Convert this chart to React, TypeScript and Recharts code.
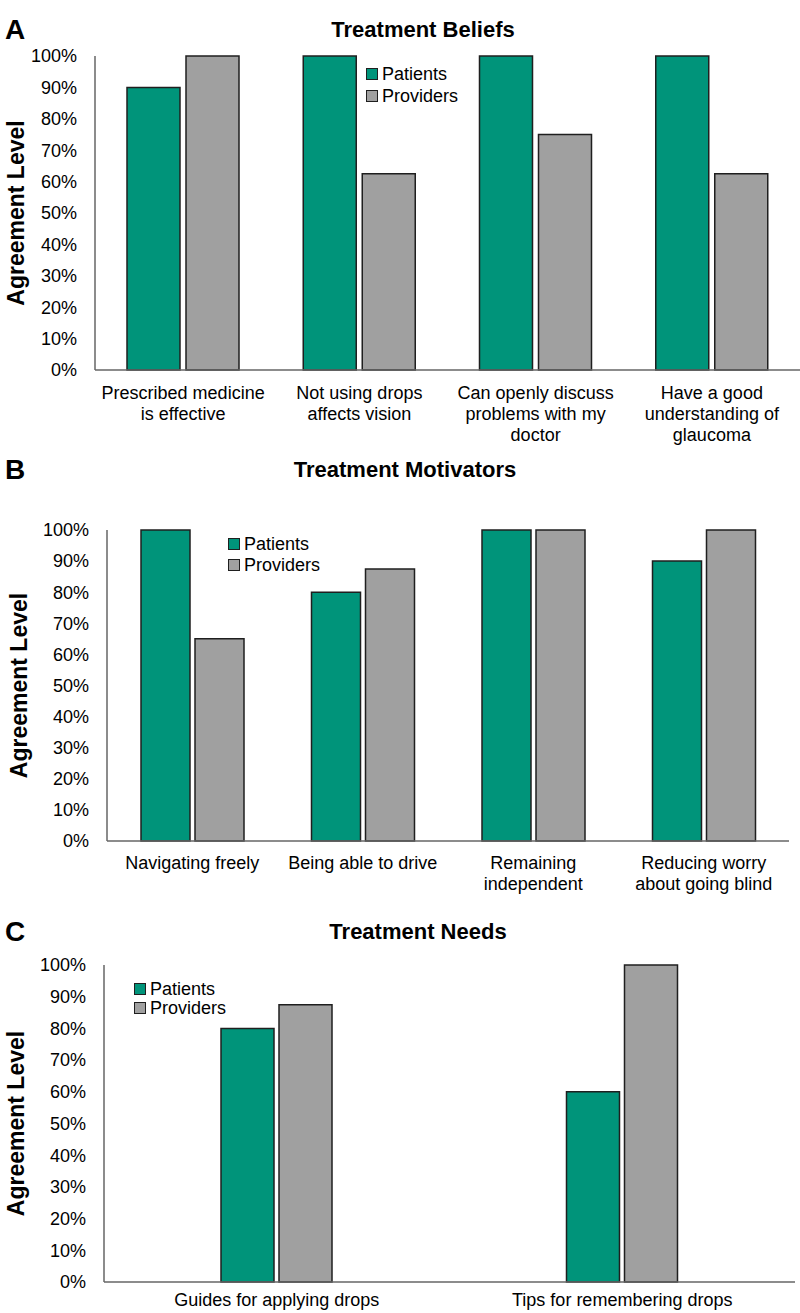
import React from 'react';
import { BarChart, Bar, XAxis, YAxis } from 'recharts';

const FONT = '"Liberation Sans", Arial, sans-serif';
const GREEN = '#00947A';
const GRAY = '#A0A0A0';
const EDGE = '#1f1f1f';
const AXIS = '#666666';

const seriesNames = ['Patients', 'Providers'];
const yTicks = [0, 10, 20, 30, 40, 50, 60, 70, 80, 90, 100];

// A - Treatment Beliefs
const categoriesA = [
  'Prescribed medicine\nis effective',
  'Not using drops\naffects vision',
  'Can openly discuss\nproblems with my\ndoctor',
  'Have a good\nunderstanding of\nglaucoma',
];
const patientsA = [90, 100, 100, 100];
const providersA = [100, 62.5, 75, 62.5];

// B - Treatment Motivators
const categoriesB = [
  'Navigating freely',
  'Being able to drive',
  'Remaining\nindependent',
  'Reducing worry\nabout going blind',
];
const patientsB = [100, 80, 100, 90];
const providersB = [65, 87.5, 100, 100];

// C - Treatment Needs
const categoriesC = ['Guides for applying drops', 'Tips for remembering drops'];
const patientsC = [80, 60];
const providersC = [87.5, 100];

const makeXTick = (offset: number) => (props: any) => {
  const { x, y, payload } = props;
  const lines = String(payload.value).split('\n');
  return (
    <g>
      {lines.map((line, i) => (
        <text key={i} x={x} y={y + offset + i * 21} textAnchor="middle" fontSize={18} fill="#000" fontFamily={FONT}>
          {line}
        </text>
      ))}
    </g>
  );
};

const yLabel = (cx: number) => (props: any) => {
  const vb = props.viewBox || { y: 0, height: 0 };
  const cy = vb.y + vb.height / 2;
  return (
    <text
      x={cx}
      y={cy}
      transform={`rotate(-90 ${cx} ${cy})`}
      textAnchor="middle"
      dominantBaseline="central"
      fontSize={23}
      fontWeight="bold"
      fill="#000"
      fontFamily={FONT}
    >
      Agreement Level
    </text>
  );
};

interface PanelProps {
  letter: string;
  title: string;
  titleX: number;
  titleY: number;
  top: number;
  height: number;
  plotTop: number;
  plotBottom: number;
  plotLeft: number;
  plotRight: number;
  labelX: number;
  tickOffset: number;
  barSize: number;
  barGap: number;
  categories: string[];
  patients: number[];
  providers: number[];
  legendX: number;
  legendY: number;
  legendRow: number;
}

const Panel: React.FC<PanelProps> = (p) => {
  const data = p.categories.map((c, i) => ({ name: c, patients: p.patients[i], providers: p.providers[i] }));
  const colors = [GREEN, GRAY];
  const XTick = makeXTick(p.tickOffset);
  return (
    <>
      <div style={{ position: 'absolute', left: 5, top: p.titleY - 16, fontSize: 28, fontWeight: 'bold', lineHeight: '32px' }}>
        {p.letter}
      </div>
      <div
        style={{
          position: 'absolute',
          left: p.titleX,
          top: p.titleY - 13,
          transform: 'translateX(-50%)',
          fontSize: 22,
          fontWeight: 'bold',
          lineHeight: '26px',
          whiteSpace: 'nowrap',
        }}
      >
        {p.title}
      </div>
      <div style={{ position: 'absolute', left: 0, top: p.top, width: 800, height: p.height }}>
        <BarChart
          width={800}
          height={p.height}
          data={data}
          margin={{ top: p.plotTop - p.top, right: 800 - p.plotRight, left: 0, bottom: 0 }}
          barGap={p.barGap}
          barSize={p.barSize}
        >
          <XAxis
            dataKey="name"
            height={p.top + p.height - p.plotBottom}
            interval={0}
            tick={<XTick />}
            tickLine={false}
            tickSize={0}
            tickMargin={0}
            axisLine={{ stroke: AXIS, strokeWidth: 1.5 }}
          />
          <YAxis
            width={p.plotLeft}
            domain={[0, 100]}
            ticks={yTicks}
            interval={0}
            tickFormatter={(v) => `${v}%`}
            tickLine={false}
            tickSize={0}
            tickMargin={18}
            axisLine={{ stroke: AXIS, strokeWidth: 1.5 }}
            tick={{ fontSize: 18, fill: '#000', fontFamily: FONT }}
            label={{ content: yLabel(p.labelX) }}
          />
          <Bar dataKey="patients" fill={GREEN} stroke={EDGE} strokeWidth={1.5} isAnimationActive={false} />
          <Bar dataKey="providers" fill={GRAY} stroke={EDGE} strokeWidth={1.5} isAnimationActive={false} />
        </BarChart>
      </div>
      {seriesNames.map((name, i) => (
        <div
          key={name}
          style={{
            position: 'absolute',
            left: p.legendX,
            top: p.legendY + i * p.legendRow - 11,
            height: 22,
            display: 'flex',
            alignItems: 'center',
            fontSize: 18,
            whiteSpace: 'nowrap',
          }}
        >
          <span
            style={{
              display: 'inline-block',
              width: 10,
              height: 10,
              background: colors[i],
              border: `1px solid ${EDGE}`,
              marginRight: 4,
            }}
          />
          {name}
        </div>
      ))}
    </>
  );
};

const App: React.FC = () => {
  return (
    <div
      style={{
        position: 'absolute',
        left: 0,
        top: 0,
        width: 800,
        height: 1313,
        background: '#fff',
        fontFamily: FONT,
        color: '#000',
        overflow: 'hidden',
      }}
    >
      <Panel
        letter="A"
        title="Treatment Beliefs"
        titleX={423}
        titleY={30}
        top={0}
        height={460}
        plotTop={56}
        plotBottom={370}
        plotLeft={95}
        plotRight={800}
        labelX={16}
        tickOffset={29}
        barSize={53}
        barGap={6}
        categories={categoriesA}
        patients={patientsA}
        providers={providersA}
        legendX={366}
        legendY={74}
        legendRow={22}
      />
      <Panel
        letter="B"
        title="Treatment Motivators"
        titleX={405}
        titleY={470}
        top={490}
        height={440}
        plotTop={530}
        plotBottom={841}
        plotLeft={107}
        plotRight={789}
        labelX={19}
        tickOffset={28}
        barSize={49}
        barGap={5}
        categories={categoriesB}
        patients={patientsB}
        providers={providersB}
        legendX={228}
        legendY={544}
        legendRow={21}
      />
      <Panel
        letter="C"
        title="Treatment Needs"
        titleX={418}
        titleY={932}
        top={945}
        height={368}
        plotTop={965}
        plotBottom={1282}
        plotLeft={104}
        plotRight={795}
        labelX={16}
        tickOffset={24}
        barSize={53}
        barGap={5}
        categories={categoriesC}
        patients={patientsC}
        providers={providersC}
        legendX={134}
        legendY={989}
        legendRow={19}
      />
    </div>
  );
};

export default App;
